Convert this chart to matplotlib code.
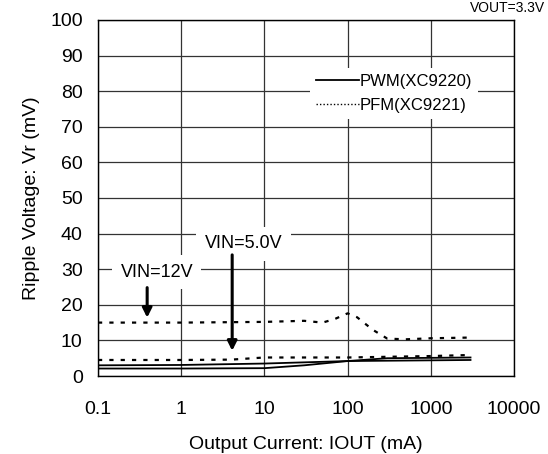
import numpy as np
import matplotlib
matplotlib.use("Agg")
import matplotlib.pyplot as plt
from matplotlib.lines import Line2D

plt.rcParams['font.family'] = ['Liberation Sans', 'DejaVu Sans']

# PFM (XC9221) curves, dashed
pfm12_x = [0.1, 1, 10, 30, 50, 70, 100, 130, 200, 300, 500, 1000, 3000]
pfm12_y = [15.0, 15.0, 15.2, 15.5, 15.0, 16.0, 17.6, 16.5, 13.0, 10.5, 10.3, 10.6, 10.8]
pfm5_x = [0.1, 1, 4, 10, 100, 1000, 3000]
pfm5_y = [4.5, 4.5, 4.6, 5.2, 5.2, 5.6, 5.9]

# PWM (XC9220) curves, solid
pwm12_x = [0.1, 1, 10, 100, 1000, 3000]
pwm12_y = [3.0, 3.1, 3.5, 4.2, 4.4, 4.5]
pwm5_x = [0.1, 1, 10, 30, 100, 300, 1000, 3000]
pwm5_y = [2.1, 2.1, 2.2, 3.0, 4.2, 5.0, 5.1, 5.2]

xticks = [0.1, 1, 10, 100, 1000, 10000]
xlabels = ['0.1', '1', '10', '100', '1000', '10000']

fig = plt.figure(figsize=(5.48, 4.54), dpi=100)
ax = fig.add_axes([0.1788, 0.1718, 0.7592, 0.7842])

ax.plot(pfm12_x, pfm12_y, color='black', lw=1.6, ls=(0, (1.9, 3.2)))
ax.plot(pfm5_x, pfm5_y, color='black', lw=1.6, ls=(0, (1.9, 3.2)))
ax.plot(pwm12_x, pwm12_y, color='black', lw=1.3)
ax.plot(pwm5_x, pwm5_y, color='black', lw=1.3)

ax.set_xscale('log')
ax.set_xlim(0.1, 10000)
ax.set_ylim(0, 100)
ax.set_xticks(xticks)
ax.set_xticklabels(xlabels)
ax.set_yticks(np.arange(0, 101, 10))
ax.minorticks_off()
ax.tick_params(length=0, labelsize=14)
ax.tick_params(axis='x', pad=18)
ax.tick_params(axis='y', pad=11)
ax.grid(True, color='#333333', lw=0.9)
ax.set_axisbelow(True)
for s in ax.spines.values():
    s.set_linewidth(1.0)

ax.set_xlabel('Output Current: IOUT (mA)', fontsize=14, labelpad=13)
ax.set_ylabel('Ripple Voltage: Vr (mV)', fontsize=14, labelpad=7)

box = dict(facecolor='white', edgecolor='none', pad=6)
ax.text(0.51, 29.2, 'VIN=12V', fontsize=13, ha='center', va='center', bbox=box)
ax.text(5.6, 37.1, 'VIN=5.0V', fontsize=13, ha='center', va='center', bbox=box)
ax.annotate('', xy=(0.39, 15.6), xytext=(0.39, 25.6),
            arrowprops=dict(arrowstyle='-|>', color='black', lw=2.2, mutation_scale=14))
ax.annotate('', xy=(4.1, 6.3), xytext=(4.1, 34.8),
            arrowprops=dict(arrowstyle='-|>', color='black', lw=2.2, mutation_scale=14))

handles = [Line2D([], [], color='black', lw=1.3),
           Line2D([], [], color='black', lw=1.0, ls=(0, (1, 1.5)))]
leg = ax.legend(handles, ['PWM(XC9220)', 'PFM(XC9221)'], loc='upper left',
                bbox_to_anchor=(0.51, 0.866), fontsize=12, frameon=True,
                fancybox=False, handlelength=2.6, handletextpad=0.0,
                borderpad=0.35, labelspacing=0.55, borderaxespad=0)
leg.get_frame().set_edgecolor('none')
leg.get_frame().set_facecolor('white')
leg.get_frame().set_alpha(1)

fig.text(0.995, 0.998, 'VOUT=3.3V', fontsize=10, ha='right', va='top')

fig.savefig('out.png', dpi=100)
